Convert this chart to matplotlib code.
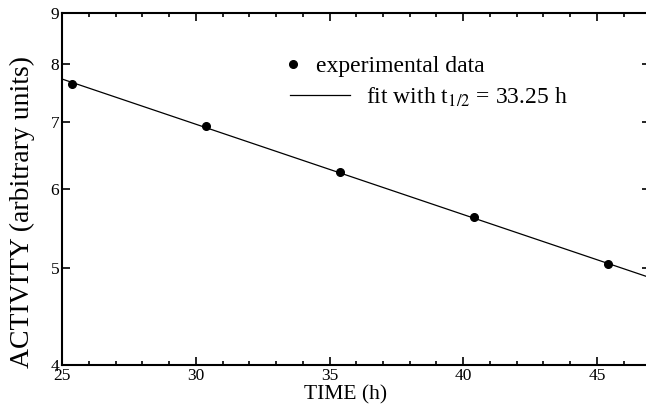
import matplotlib
matplotlib.use('Agg')
import matplotlib.pyplot as plt
from matplotlib.ticker import FixedLocator, MultipleLocator, NullLocator, FixedFormatter

# measured points
time_h = [25.38, 30.38, 35.40, 40.40, 45.40]
activity = [7.65, 6.93, 6.235, 5.63, 5.05]

# fit line (straight on log axis), end values
fit_time = [25.0, 47.0]
fit_activity = [7.73, 4.89]

y_ticks = [4, 5, 6, 7, 8, 9]
y_labels = ['4', '5', '6', '7', '8', '9']

plt.rcParams['font.family'] = ['Liberation Serif', 'DejaVu Serif']
plt.rcParams['mathtext.fontset'] = 'stix'

fig = plt.figure(figsize=(6.46, 4.17), dpi=100)
ax = fig.add_axes([62/646., 52/417., 588.5/646., 352/417.])

pts, = ax.plot(time_h, activity, 'ko', ms=5.5, lw=0)
fit, = ax.plot(fit_time, fit_activity, 'k-', lw=0.9)

ax.set_yscale('log')
ax.set_xlim(25, 47)
ax.set_ylim(4, 9)
ax.yaxis.set_major_locator(FixedLocator(y_ticks))
ax.yaxis.set_major_formatter(FixedFormatter(y_labels))
ax.yaxis.set_minor_locator(NullLocator())
ax.xaxis.set_major_locator(MultipleLocator(5))
ax.xaxis.set_minor_locator(MultipleLocator(1))

ax.tick_params(which='both', direction='in', top=True, right=True,
               labelsize=12.5, width=1.2)
ax.tick_params(which='major', length=6, pad=2)
ax.tick_params(which='minor', length=3)
for s in ax.spines.values():
    s.set_linewidth(1.5)

ax.set_xlabel('TIME (h)', fontsize=15.5)
ax.xaxis.set_label_coords(0.481, -0.058)
ax.set_ylabel('ACTIVITY (arbitrary units)', fontsize=20)
ax.yaxis.set_label_coords(-0.046, 0.436)

leg1 = fig.legend([pts], ['experimental data'], loc='center left',
                  bbox_to_anchor=(289/646., 1 - 66/417.), bbox_transform=fig.transFigure,
                  frameon=False, fontsize=17, borderpad=0, borderaxespad=0,
                  handlelength=0.35, handletextpad=0.8, numpoints=1)
leg2 = fig.legend([fit], [r'fit with t$_{\mathrm{1/2}}$ = 33.25 h'], loc='center left',
                  bbox_to_anchor=(290/646., 1 - 97/417.), bbox_transform=fig.transFigure,
                  frameon=False, fontsize=17, borderpad=0, borderaxespad=0,
                  handlelength=2.55, handletextpad=0.68)

fig.savefig('out.png', dpi=100)
